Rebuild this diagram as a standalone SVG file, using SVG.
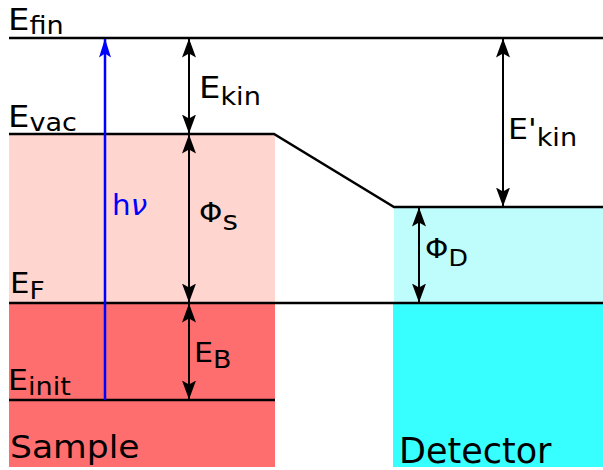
<svg xmlns="http://www.w3.org/2000/svg" width="603" height="470" viewBox="0 0 603 470">
<style>
.lv{stroke:#000;stroke-width:2.5;fill:none}
.ar{stroke:#000;stroke-width:2;fill:none;marker-start:url(#ah);marker-end:url(#ah)}
text{font-family:"DejaVu Sans",sans-serif;fill:#000}
.m{font-size:30px}
.s{font-size:24px}
</style>
<defs>
<marker id="ah" viewBox="0 0 19 14" refX="18.5" refY="7" markerWidth="19" markerHeight="14" markerUnits="userSpaceOnUse" orient="auto-start-reverse">
<path d="M0,0 L19,7 L0,14 L4,7 Z" fill="#000"/>
</marker>
<marker id="ahb" viewBox="0 0 19 12" refX="18.5" refY="6" markerWidth="19" markerHeight="12" markerUnits="userSpaceOnUse" orient="auto">
<path d="M0,0 L19,6 L0,12 L4,6 Z" fill="#0000ff"/>
</marker>
</defs>
<g id="sample">
<rect x="9" y="134" width="266" height="169" fill="#ffd5cf"/>
<rect x="9" y="303" width="266" height="164" fill="#ff6e6e"/>
<text transform="translate(10,458) scale(1.08,1)" style="font-size:32px">Sample</text>
</g>
<g id="detector">
<rect x="394" y="207" width="209" height="96" fill="#bffcfc"/>
<rect x="393" y="303" width="210" height="164" fill="#37ffff"/>
<text x="399" y="463" style="font-size:35px">Detector</text>
</g>
<g id="levels">
<line class="lv" x1="9" y1="38" x2="603" y2="38"/>
<polyline class="lv" points="9,134 274,134 394,207 603,207"/>
<line class="lv" x1="9" y1="303" x2="603" y2="303"/>
<line class="lv" x1="9" y1="400" x2="275" y2="400"/>
</g>
<g id="labels">
<text transform="translate(8,30) scale(1.13,1)" class="m">E<tspan class="s" dy="4">fin</tspan></text>
<text transform="translate(8,127) scale(1.13,1)" class="m">E<tspan class="s" dy="4">vac</tspan></text>
<text transform="translate(10,293) scale(1.1,1)" class="m" style="font-size:28px">E<tspan class="s" dy="6">F</tspan></text>
<text transform="translate(8,390) scale(1.13,1)" class="m" style="font-size:28px">E<tspan class="s" dy="5">init</tspan></text>
<text transform="translate(199,98) scale(1.13,1)" class="m">E<tspan class="s" dy="7">kin</tspan></text>
<text transform="translate(508,139) scale(1.13,1)" class="m" style="font-size:28px">E'<tspan class="s" dy="7">kin</tspan></text>
<text transform="translate(199,222) scale(1.1,1)" style="font-size:27px">Φ<tspan style="font-size:27px" dy="8">s</tspan></text>
<text transform="translate(425,258) scale(1.1,1)" style="font-size:27px">Φ<tspan style="font-size:23px" dy="8">D</tspan></text>
<text transform="translate(194,362) scale(1.12,1)" style="font-size:27px">E<tspan style="font-size:24px" dy="6">B</tspan></text>
<text transform="translate(112,215) scale(1.05,1)" style="font-size:28px;fill:#0000ff">h<tspan font-style="italic">ν</tspan></text>
</g>
<g id="connectors">
<line x1="105" y1="400" x2="105" y2="39" stroke="#0000ff" stroke-width="2.5" marker-end="url(#ahb)"/>
<line class="ar" x1="189" y1="39" x2="189" y2="133"/>
<line class="ar" x1="189" y1="135" x2="189" y2="302"/>
<line class="ar" x1="189" y1="304" x2="189" y2="399"/>
<line class="ar" x1="503" y1="39" x2="503" y2="206"/>
<line class="ar" x1="419" y1="208" x2="419" y2="302"/>
</g>
</svg>
